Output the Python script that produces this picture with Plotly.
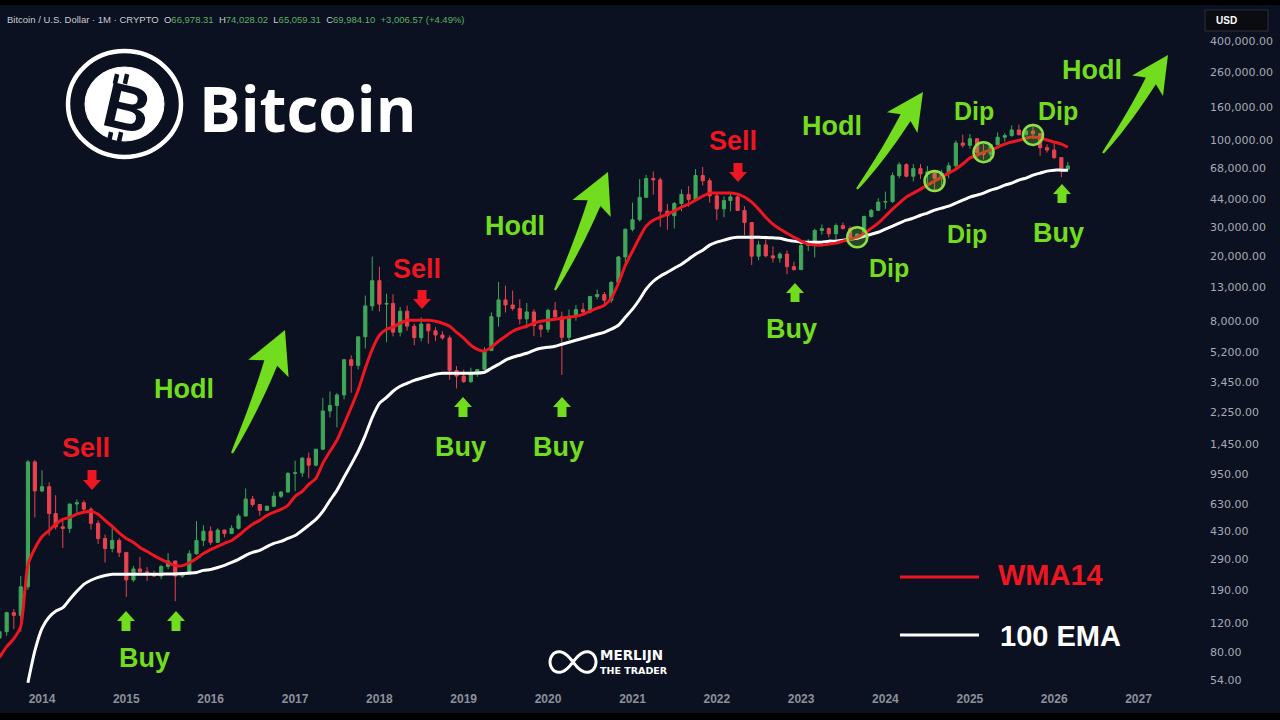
import numpy as np
import pandas as pd
import plotly.graph_objects as go

# ---------------- data (monthly BTC/USD) ----------------
month_start = "2013-07-01"

open_ = [
    97, 106, 138, 133, 198, 1130,
    754, 800, 550, 457, 447, 628, 640, 585, 480, 388, 338, 378,
    320, 218, 254, 244, 236, 230, 263, 284, 230, 236, 314, 378,
    430, 368, 437, 416, 448, 531, 673, 624, 575, 609, 700, 742,
    963, 970, 1190, 1080, 1350, 2300, 2480, 2875, 4700, 4340, 6470, 9950,
    14150, 10200, 10300, 6900, 9240, 7500, 6390, 7730, 7030, 6630, 6370, 4040,
    3740, 3460, 3850, 4100, 5350, 8570, 10820, 10080, 9600, 8300, 9150, 7570,
    7190, 9350, 8540, 6420, 8630, 9450, 9140, 11350, 11660, 10780, 13800, 19700,
    28950, 33100, 45200, 58800, 57700, 37300, 35000, 41500, 47100, 43800, 61300, 57000,
    46200, 38500, 43200, 45500, 37700, 31800, 19900, 23300, 20000, 19400, 20500, 17200,
    16500, 23100, 23150, 28500, 29250, 27200, 30500, 29250, 25950, 27000, 34650, 37700,
    42300, 42600, 61200, 71300, 60700, 67500, 62700, 64600, 58950, 63300, 70200, 96400,
    93400, 102400, 84350, 82500, 94200, 104600, 107100, 115750, 108250, 114000, 109600, 90400,
    87500, 78700, 66978.31,
]
high = [
    111, 140, 145, 230, 1160, 1160,
    1005, 850, 710, 500, 630, 670, 660, 600, 500, 410, 460, 390,
    320, 265, 300, 261, 248, 268, 317, 285, 243, 330, 495, 467,
    460, 448, 440, 467, 548, 780, 704, 626, 614, 740, 753, 979,
    1150, 1210, 1290, 1350, 2760, 3020, 2950, 4750, 5000, 6470, 11500, 19800,
    17200, 11800, 11700, 9800, 9990, 7760, 8480, 7760, 7400, 7000, 6600, 4300,
    4100, 4200, 4130, 5600, 9100, 13900, 13200, 12330, 10900, 10370, 9500, 7750,
    9580, 10500, 9200, 9460, 10080, 10380, 11440, 12480, 12070, 14100, 19900, 29300,
    41950, 58350, 61800, 64900, 59600, 41300, 42400, 50500, 52900, 67000, 69000, 59100,
    47900, 45800, 48200, 47400, 40000, 31900, 24700, 25200, 22800, 21000, 21500, 18400,
    23950, 25250, 29200, 31000, 29800, 31400, 31800, 30200, 27500, 35000, 38400, 44700,
    48950, 64000, 73800, 72800, 71950, 71950, 70000, 65000, 66500, 73600, 99800, 108300,
    109400, 102500, 95000, 95750, 111900, 110500, 123200, 124500, 117900, 126200, 111200, 94600,
    97900, 79000, 74028.02,
]
low = [
    66, 100, 110, 106, 190, 520,
    740, 405, 440, 340, 420, 555, 570, 440, 360, 278, 320, 300,
    172, 212, 236, 215, 227, 220, 253, 162, 225, 235, 310, 350,
    355, 365, 394, 414, 440, 530, 606, 533, 570, 604, 683, 741,
    752, 915, 900, 1060, 1330, 2100, 1830, 2700, 2970, 4100, 5500, 9300,
    9200, 6000, 6500, 6500, 7040, 5750, 6070, 5880, 6100, 6200, 3550, 3150,
    3400, 3400, 3700, 4100, 5330, 7450, 9070, 9320, 7700, 7300, 6520, 6430,
    6860, 8450, 3800, 6150, 8100, 8830, 8970, 10900, 9880, 10380, 13200, 17600,
    28130, 32300, 45000, 47000, 30000, 28800, 29300, 37300, 39600, 43300, 53300, 42000,
    32900, 34300, 37200, 37700, 26700, 17600, 18800, 19600, 18200, 18200, 15500, 16300,
    16500, 21400, 19550, 26900, 25800, 24800, 28900, 25200, 24900, 26550, 34100, 37600,
    38500, 41900, 59000, 59600, 56550, 58400, 53500, 49000, 52550, 58900, 66800, 90500,
    89200, 78200, 76600, 74400, 93350, 98200, 105100, 107300, 107300, 102000, 80600, 84400,
    77000, 60000, 65059.31,
]
close = [
    106, 138, 133, 198, 1130, 754,
    800, 550, 457, 447, 628, 640, 585, 480, 388, 338, 378, 320,
    218, 254, 244, 236, 230, 263, 284, 230, 236, 314, 378, 430,
    368, 437, 416, 448, 531, 673, 624, 575, 609, 700, 742, 963,
    970, 1190, 1080, 1350, 2300, 2480, 2875, 4700, 4340, 6470, 9950, 14150,
    10200, 10300, 6900, 9240, 7500, 6390, 7730, 7030, 6630, 6370, 4040, 3740,
    3460, 3850, 4100, 5350, 8570, 10820, 10080, 9600, 8300, 9150, 7570, 7190,
    9350, 8540, 6420, 8630, 9450, 9140, 11350, 11660, 10780, 13800, 19700, 28950,
    33100, 45200, 58800, 57700, 37300, 35000, 41500, 47100, 43800, 61300, 57000, 46200,
    38500, 43200, 45500, 37700, 31800, 19900, 23300, 20000, 19400, 20500, 17200, 16500,
    23100, 23150, 28500, 29250, 27200, 30500, 29250, 25950, 27000, 34650, 37700, 42300,
    42600, 61200, 71300, 60700, 67500, 62700, 64600, 58950, 63300, 70200, 96400, 93400,
    102400, 84350, 82500, 94200, 104600, 107100, 115750, 108250, 114000, 109600, 90400, 87500,
    78700, 66978.31, 69984.10,
]

# WMA14 (red) line values, monthly from month_start
wma14 = [
    74, 86, 96, 114, 269, 338,
    398, 435, 474, 507, 522, 545, 560, 567, 545, 500, 460, 420,
    389, 367, 343, 324, 306, 290, 277, 266, 266, 277, 294, 315,
    333, 348, 363, 378, 405, 441, 474, 500, 536, 560, 583, 617,
    699, 750, 826, 899, 1107, 1309, 1527, 1910, 2421, 3069, 4169, 5433,
    6607, 7190, 7400, 7816, 8147, 8147, 8147, 8147, 8036, 7816, 7493, 6887,
    6340, 5750, 5433, 5300, 5600, 6081, 6516, 6985, 7290, 7493, 7816, 8036,
    8147, 8260, 8375, 8490, 8610, 8850, 9240, 9640, 10050, 11070, 13650, 17540,
    21330, 25940, 30270, 32890, 34290, 35800, 37330, 39450, 41110, 43450, 46000, 47970,
    47970, 47970, 47970, 47300, 45390, 42270, 38370, 34290, 31120, 29040, 27420, 25940,
    24550, 23550, 23230, 23230, 23550, 23880, 24550, 25230, 25940, 27420, 29440, 31550,
    34760, 38370, 41690, 45390, 47970, 50700, 53580, 56750, 59980, 63390, 66990, 71940,
    78160, 81470, 84920, 87300, 91150, 95060, 97720, 100000, 103300, 104700, 103300, 100500,
    97720, 95060, 91150,
]

# 100 EMA (white) line values, monthly from ema_start
ema_start = "2013-11-01"
ema100 = [
    52, 81,
    111, 130, 141, 148, 166, 186, 205, 217, 226, 232, 236, 236,
    236, 236, 236, 236, 236, 236, 237, 237, 238, 240, 242, 249,
    252, 259, 267, 278, 290, 307, 320, 329, 347, 363, 373, 389,
    405, 435, 467, 507, 567, 661, 760, 912, 1092, 1309, 1637, 2104,
    2558, 2780, 3027, 3243, 3381, 3524, 3631, 3733, 3838, 3890, 3890, 3890,
    3890, 3890, 3900, 3945, 4169, 4406, 4667, 4864, 5000, 5140, 5358, 5508,
    5585, 5675, 5834, 5998, 6166, 6340, 6516, 6699, 6887, 7190, 7600, 8490,
    9506, 10920, 12560, 14030, 15060, 15920, 16830, 17790, 19090, 20460, 21630, 23230,
    24210, 24890, 25590, 25940, 25940, 25940, 25940, 25800, 25700, 25590, 24890, 24550,
    24210, 24210, 24210, 24210, 24550, 24550, 24890, 25230, 25590, 26300, 27040, 27800,
    29040, 30270, 31550, 32890, 33810, 35240, 36310, 37840, 38900, 40000, 41690, 43450,
    45390, 46670, 47970, 50000, 51400, 53580, 55080, 57540, 59150, 61660, 63390, 65160,
    66070, 66070, 66070,
]

# "Dip" circles (touches of the WMA14)
dip_dates = ["2023-09-01", "2024-08-01", "2025-03-01", "2025-10-01"]
dip_values = [25940, 56750, 84920, 108000]

y_tick_vals = [400000, 260000, 160000, 100000, 68000, 44000, 30000, 20000, 13000,
               8000, 5200, 3450, 2250, 1450, 950, 630, 430, 290, 190, 120, 80, 54]
year_ticks = list(range(2014, 2028))

header_name = "Bitcoin / U.S. Dollar · 1M · CRYPTO"
header_ohlc = [("O", "66,978.31"), ("H", "74,028.02"), ("L", "65,059.31"),
               ("C", "69,984.10"), ("", "+3,006.57 (+4.49%)")]

# ---------------- style / layout helpers ----------------
BG = "#0b1121"
UP = "#3fa65a"
DN = "#e8434f"
LIME = "#72dc1f"
RED = "#ee1620"
W, H = 1280, 720
ML, MR, MT, MB = 0, 80, 5, 30
PW, PH = W - ML - MR, H - MT - MB


def px(x):
    return (x - ML) / PW


def py(y):
    return 1 - (y - MT) / PH


def poly(points, close_path=True):
    s = "M " + " L ".join(f"{px(x):.5f},{py(y):.5f}" for x, y in points)
    return s + (" Z" if close_path else "")


months = pd.date_range(month_start, periods=len(close), freq="MS")
ema_months = pd.date_range(ema_start, periods=len(ema100), freq="MS")

fig = go.Figure()
fig.add_trace(go.Candlestick(
    x=months, open=open_, high=high, low=low, close=close,
    increasing=dict(line=dict(color=UP, width=1), fillcolor=UP),
    decreasing=dict(line=dict(color=DN, width=1), fillcolor=DN),
    whiskerwidth=0, showlegend=False, hoverinfo="skip"))
fig.add_trace(go.Scatter(x=ema_months, y=ema100, mode="lines", showlegend=False,
                         line=dict(color="white", width=3, shape="spline", smoothing=0.6)))
fig.add_trace(go.Scatter(x=months, y=wma14, mode="lines", showlegend=False,
                         line=dict(color=RED, width=3, shape="spline", smoothing=0.6)))
fig.add_trace(go.Scatter(x=dip_dates, y=dip_values, mode="markers", showlegend=False,
                         marker=dict(symbol="circle", size=20, color="rgba(110,200,50,0.30)",
                                     line=dict(color="#8ee04a", width=2.5))))

# axis ranges (time scale ~84.35 px / year, price scale ~165.13 px / decade)
days_per_px = 365.25 / 84.35
x0 = pd.Timestamp("2014-01-01") - pd.Timedelta(days=42 * days_per_px)
x1 = x0 + pd.Timedelta(days=PW * days_per_px)
DEC = 165.13
ytop = np.log10(400000) + (41 - MT) / DEC
ybot = np.log10(400000) - (H - MB - 41) / DEC

shapes = []
annotations = []


# --- big Hodl arrows ---
def big_arrow(tail, tip, head_len, head_w, w_tail=2.0, w_neck=14.0, bend=3.0):
    tail = np.array(tail, float)
    tip = np.array(tip, float)
    d = tip - tail
    d /= np.linalg.norm(d)
    n = np.array([-d[1], d[0]])
    base = tip - d * head_len
    ctrl = (tail + base) / 2 + n * bend
    ts = np.linspace(0, 1, 14)
    cen = [(1 - t) ** 2 * tail + 2 * (1 - t) * t * ctrl + t ** 2 * base for t in ts]
    ws = w_tail + (w_neck - w_tail) * ts ** 0.8
    left = [c + n * w / 2 for c, w in zip(cen, ws)]
    right = [c - n * w / 2 for c, w in zip(cen, ws)]
    hl = base + n * head_w / 2 - d * 6
    hr = base - n * head_w / 2 - d * 6
    pts = left + [hl, tip, hr] + right[::-1]
    return dict(type="path", xref="paper", yref="paper",
                path=poly([(p[0], p[1]) for p in pts]),
                fillcolor=LIME, line=dict(width=0), layer="above")


shapes.append(big_arrow((232, 453), (285, 330), 36, 44))
shapes.append(big_arrow((555, 290), (608, 172), 34, 42))
shapes.append(big_arrow((857, 189), (923, 92), 31, 37, w_neck=12))
shapes.append(big_arrow((1103, 153), (1168, 55), 31, 37, w_neck=12))


# --- small buy / sell arrows ---
def up_arrow(cx, top, bottom, color):
    hh = 10
    pts = [(cx, top), (cx + 9, top + hh), (cx + 4.5, top + hh), (cx + 4.5, bottom),
           (cx - 4.5, bottom), (cx - 4.5, top + hh), (cx - 9, top + hh)]
    return dict(type="path", xref="paper", yref="paper", path=poly(pts),
                fillcolor=color, line=dict(width=0), layer="above")


def down_arrow(cx, top, bottom, color):
    hh = 10
    pts = [(cx - 4.5, top), (cx + 4.5, top), (cx + 4.5, bottom - hh), (cx + 9, bottom - hh),
           (cx, bottom), (cx - 9, bottom - hh), (cx - 4.5, bottom - hh)]
    return dict(type="path", xref="paper", yref="paper", path=poly(pts),
                fillcolor=color, line=dict(width=0), layer="above")


for cx, t, b in [(126, 611, 631), (176, 611, 631), (463, 397, 417), (562, 397, 417),
                 (795, 283, 302), (1062, 184, 203)]:
    shapes.append(up_arrow(cx, t, b, LIME))
for cx, t, b in [(92, 470, 490), (422, 290, 309), (738, 163, 182)]:
    shapes.append(down_arrow(cx, t, b, RED))

# --- text labels ---
labels = [
    ("Sell", 86, 448, RED, 27), ("Buy", 144, 658, LIME, 27), ("Hodl", 184, 389, LIME, 27),
    ("Sell", 417, 269, RED, 27), ("Buy", 460, 447, LIME, 27), ("Buy", 558, 447, LIME, 27),
    ("Hodl", 515, 226, LIME, 27), ("Sell", 733, 141, RED, 27), ("Buy", 791, 329, LIME, 27),
    ("Hodl", 832, 126, LIME, 27), ("Dip", 889, 268, LIME, 25), ("Dip", 967, 234, LIME, 25),
    ("Dip", 974, 111, LIME, 25), ("Dip", 1058, 111, LIME, 25), ("Buy", 1058, 233, LIME, 27),
    ("Hodl", 1092, 70, LIME, 27),
]
for txt, cx, cy, col, sz in labels:
    annotations.append(dict(text=f"<b>{txt}</b>", x=px(cx), y=py(cy), xref="paper", yref="paper",
                            showarrow=False, xanchor="center", yanchor="middle",
                            font=dict(family="Liberation Sans", size=sz, color=col)))

# --- legend ---
shapes.append(dict(type="line", xref="paper", yref="paper", x0=px(900), x1=px(979),
                   y0=py(577), y1=py(577), line=dict(color=RED, width=3)))
shapes.append(dict(type="line", xref="paper", yref="paper", x0=px(900), x1=px(979),
                   y0=py(635), y1=py(635), line=dict(color="white", width=3)))
annotations.append(dict(text="<b>WMA14</b>", x=px(996), y=py(575), xref="paper", yref="paper",
                        showarrow=False, xanchor="left", yanchor="middle",
                        font=dict(family="Liberation Sans", size=29, color=RED)))
annotations.append(dict(text="<b>100 EMA</b>", x=px(998), y=py(636), xref="paper", yref="paper",
                        showarrow=False, xanchor="left", yanchor="middle",
                        font=dict(family="Liberation Sans", size=29, color="white")))

# --- Bitcoin logo ---
shapes.append(dict(type="circle", xref="paper", yref="paper", x0=px(68), x1=px(181),
                   y0=py(51), y1=py(157), line=dict(color="white", width=4.5)))
shapes.append(dict(type="circle", xref="paper", yref="paper", x0=px(85), x1=px(164),
                   y0=py(67), y1=py(141), fillcolor="white", line=dict(color="white", width=1)))
annotations.append(dict(text="<b>B</b>", x=px(127), y=py(108), xref="paper", yref="paper",
                        showarrow=False, xanchor="center", yanchor="middle", textangle=13,
                        font=dict(family="Liberation Sans", size=64, color=BG)))
ang = np.deg2rad(13)
vx, vy = np.sin(ang), -np.cos(ang)
for bx, by in [(116, 79), (126, 79), (110, 137), (120, 137)]:
    shapes.append(dict(type="line", xref="paper", yref="paper",
                       x0=px(bx - 5 * vx), y0=py(by - 5 * vy), x1=px(bx + 5 * vx), y1=py(by + 5 * vy),
                       line=dict(color=BG, width=4.5)))
annotations.append(dict(text="<b>Bitcoin</b>", x=px(307), y=py(108), xref="paper", yref="paper",
                        showarrow=False, xanchor="center", yanchor="middle",
                        font=dict(family="Open Sans", size=62, color="white")))

# --- Merlijn logo (infinity mark + wordmark) ---
ts = np.linspace(0, 2 * np.pi, 80)
inf_pts = [(573 + 23 * np.cos(t) / (1 + np.sin(t) ** 2),
            662 + 29 * np.sin(t) * np.cos(t) / (1 + np.sin(t) ** 2)) for t in ts]
shapes.append(dict(type="path", xref="paper", yref="paper", path=poly(inf_pts),
                   fillcolor="rgba(0,0,0,0)", line=dict(color="white", width=3)))
annotations.append(dict(text="<b>MERLIJN</b>", x=px(598), y=py(655), xref="paper", yref="paper",
                        showarrow=False, xanchor="left", yanchor="middle",
                        font=dict(family="DejaVu Sans", size=13.5, color="white")))
annotations.append(dict(text="<b>THE TRADER</b>", x=px(598), y=py(670), xref="paper", yref="paper",
                        showarrow=False, xanchor="left", yanchor="middle",
                        font=dict(family="DejaVu Sans", size=9.5, color="white")))

# --- header ---
hdr = header_name + "  " + "  ".join(
    f"{k}<span style='color:#5bb062'>{v}</span>" for k, v in header_ohlc)
annotations.append(dict(text=hdr, x=px(5), y=py(20), xref="paper", yref="paper",
                        showarrow=False, xanchor="left", yanchor="middle",
                        font=dict(family="Liberation Sans", size=9.5, color="#c9ccd4")))

# --- USD box ---
shapes.append(dict(type="rect", xref="paper", yref="paper", x0=px(1205), x1=px(1268),
                   y0=py(10), y1=py(31), fillcolor="#0a0c12", line=dict(color="#2a2e39", width=1)))
annotations.append(dict(text="<b>USD</b>", x=px(1214), y=py(20.5), xref="paper", yref="paper",
                        showarrow=False, xanchor="left", yanchor="middle",
                        font=dict(family="Liberation Sans", size=10, color="white")))

# --- top / bottom black bands ---
shapes.append(dict(type="rect", xref="paper", yref="paper", x0=px(0), x1=px(W),
                   y0=py(0), y1=py(5), fillcolor="black", line=dict(width=0)))
shapes.append(dict(type="rect", xref="paper", yref="paper", x0=px(0), x1=px(W),
                   y0=py(713), y1=py(720), fillcolor="black", line=dict(width=0)))

fig.update_layout(
    width=W, height=H, autosize=False,
    margin=dict(l=ML, r=MR, t=MT, b=MB, pad=0),
    paper_bgcolor=BG, plot_bgcolor=BG,
    showlegend=False, hovermode=False,
    shapes=shapes, annotations=annotations,
    xaxis=dict(type="date", range=[x0, x1], rangeslider=dict(visible=False),
               showgrid=False, zeroline=False, showline=False, ticks="",
               tickvals=[f"{y}-01-01" for y in year_ticks],
               ticktext=[f"<b>{y}</b>" for y in year_ticks],
               tickfont=dict(family="Liberation Sans", size=12, color="#8c909a")),
    yaxis=dict(type="log", side="right", range=[ybot, ytop],
               showgrid=False, zeroline=False, showline=False, ticks="",
               tickvals=y_tick_vals, ticktext=[f"{v:,.2f}" for v in y_tick_vals],
               ticklabelstandoff=9,
               tickfont=dict(family="DejaVu Sans", size=11, color="#a6aab4")),
)

fig.write_html("out.html", config={"displayModeBar": False, "staticPlot": True},
               post_script="document.body.style.margin='0';document.body.style.overflow='hidden';")
